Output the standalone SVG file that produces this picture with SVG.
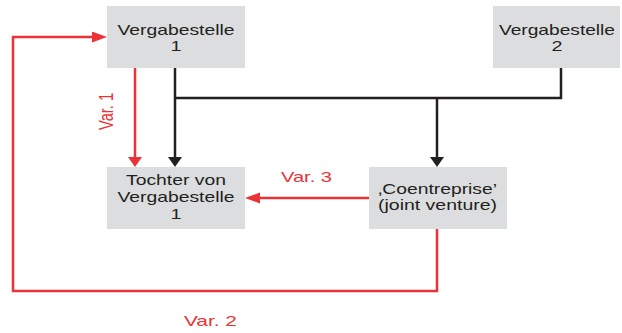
<svg xmlns="http://www.w3.org/2000/svg" width="622" height="333" viewBox="0 0 622 333">
<style>
.box{fill:#dcdddf;}
.t{font-family:"Liberation Sans",Arial,sans-serif;font-size:15px;fill:#231f20;text-anchor:middle;}
.lbl{font-family:"Liberation Sans",Arial,sans-serif;font-size:15px;fill:#ed3237;}
.red{fill:none;stroke:#ed3237;stroke-width:2.5;}
.blk{fill:none;stroke:#231f20;stroke-width:2.5;}
</style>
<defs>
<marker id="vRed" markerUnits="userSpaceOnUse" markerWidth="16" markerHeight="16" refX="2" refY="7" orient="auto"><path d="M0,0 L10,7 L0,14 Z" fill="#ed3237"/></marker>
<marker id="vBlk" markerUnits="userSpaceOnUse" markerWidth="16" markerHeight="16" refX="2" refY="7" orient="auto"><path d="M0,0 L10,7 L0,14 Z" fill="#231f20"/></marker>
<marker id="hRed" markerUnits="userSpaceOnUse" markerWidth="16" markerHeight="16" refX="2" refY="5.5" orient="auto"><path d="M0,0 L15,5.5 L0,11 Z" fill="#ed3237"/></marker>
</defs>
<g id="connectors">
<path class="red" d="M135,68 V159" marker-end="url(#vRed)"/>
<path class="blk" d="M175,68 V159" marker-end="url(#vBlk)"/>
<path class="blk" d="M175,98 H561 V68"/>
<path class="blk" d="M437,98 V159" marker-end="url(#vBlk)"/>
<path class="red" d="M437,229 V291 H13 V37 H94" marker-end="url(#hRed)"/>
<path class="red" d="M369,198 H258" marker-end="url(#hRed)"/>
<text class="lbl" transform="translate(113,130) scale(1.3,1) rotate(-90)" x="0" y="0" textLength="37" lengthAdjust="spacingAndGlyphs">Var. 1</text>
<text class="lbl" x="281" y="182" textLength="51" lengthAdjust="spacingAndGlyphs">Var. 3</text>
<text class="lbl" x="184" y="326" textLength="53" lengthAdjust="spacingAndGlyphs">Var. 2</text>
</g>
<g id="vergabestelle1">
<rect class="box" x="107" y="6" width="138" height="62"/>
<text class="t" x="176" y="35" textLength="117" lengthAdjust="spacingAndGlyphs">Vergabestelle</text>
<text class="t" x="176" y="51" textLength="11" lengthAdjust="spacingAndGlyphs">1</text>
</g>
<g id="vergabestelle2">
<rect class="box" x="493" y="6" width="127" height="62"/>
<text class="t" x="557" y="35" textLength="116" lengthAdjust="spacingAndGlyphs">Vergabestelle</text>
<text class="t" x="557" y="51" textLength="11" lengthAdjust="spacingAndGlyphs">2</text>
</g>
<g id="tochter">
<rect class="box" x="107" y="167" width="138" height="62"/>
<text class="t" x="176" y="185" textLength="100" lengthAdjust="spacingAndGlyphs">Tochter von</text>
<text class="t" x="176" y="202" textLength="117" lengthAdjust="spacingAndGlyphs">Vergabestelle</text>
<text class="t" x="176" y="219" textLength="11" lengthAdjust="spacingAndGlyphs">1</text>
</g>
<g id="coentreprise">
<rect class="box" x="369" y="167" width="138" height="62"/>
<text class="t" x="437.5" y="194" textLength="119" lengthAdjust="spacingAndGlyphs">‚Coentreprise’</text>
<text class="t" x="437.5" y="210" textLength="119" lengthAdjust="spacingAndGlyphs">(joint venture)</text>
</g>
</svg>
